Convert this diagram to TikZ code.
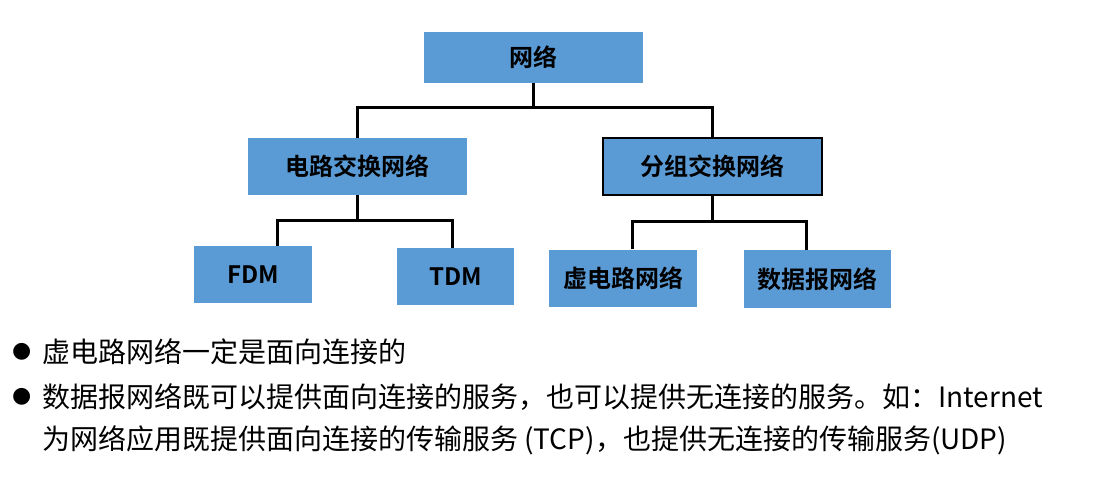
\documentclass[tikz,border=0pt]{standalone}
\usepackage{fontspec}
\setmainfont{Noto Sans CJK SC}
\newfontfamily\boldcjk{Noto Sans CJK SC Bold}
\begin{document}
\begin{tikzpicture}[x=1pt,y=-1pt,
 box/.style={fill={rgb,255:red,91;green,155;blue,213},draw=none,minimum width=#1,minimum height=57pt,inner sep=0pt,font=\boldcjk\fontsize{24}{28}\selectfont},
 conn/.style={line width=3pt},
 txt/.style={anchor=west,inner sep=0pt,font=\fontsize{28}{32}\selectfont}]
\useasboundingbox (0,0) rectangle (1099,477);
\node[box=219pt,minimum height=51pt] (net) at (533.5,57.5) {网络};
\node[box=219pt] (ckt) at (357.5,166.5) {电路交换网络};
\node[box=219pt,draw=black,line width=2.5pt] (pkt) at (712.5,166.5) {分组交换网络};
\node[box=118pt] (fdm) at (253,274.5) {FDM};
\node[box=117pt] (tdm) at (455.5,276.5) {TDM};
\node[box=148pt] (vc) at (623,278) {虚电路网络};
\node[box=147pt,minimum height=58pt] (dg) at (817.5,279) {数据报网络};
\draw[conn] (net.south) -- ++(0,24) coordinate (j1);
\draw[conn] (ckt.north) |- (j1) -| (pkt.north);
\draw[conn] (ckt.south) -- ++(0,25) coordinate (j2);
\draw[conn] (fdm.north-|277,0) |- (j2) -| (tdm.north-|452,0);
\draw[conn] (pkt.south) -- ++(0,25) coordinate (j3);
\draw[conn] (vc.north-|632,0) |- (j3) -| (dg.north-|806,0);
\node[txt,font=\fontsize{22}{26}\selectfont] (b1) at (12,352) {\fontspec{DejaVu Sans}●};
\node[txt] (t1) at (42,352) {虚电路网络一定是面向连接的};
\node[txt,font=\fontsize{22}{26}\selectfont] (b2) at (12,397) {\fontspec{DejaVu Sans}●};
\node[txt] (t2) at (42,397) {数据报网络既可以提供面向连接的服务，也可以提供无连接的服务。如：Internet};
\node[txt] (t3) at (42,440) {为网络应用既提供面向连接的传输服务 (TCP)，也提供无连接的传输服务(UDP)};
\end{tikzpicture}
\end{document}
